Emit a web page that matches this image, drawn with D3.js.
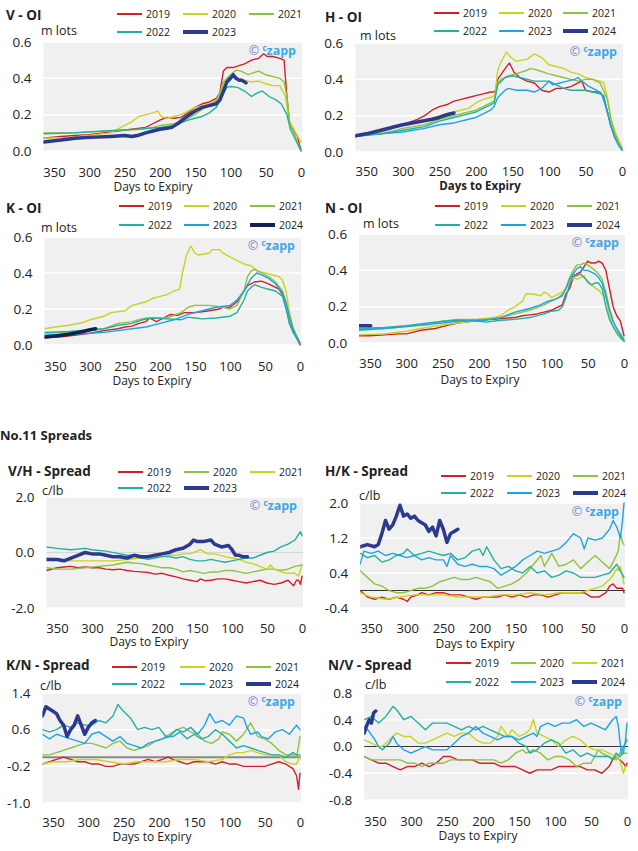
<!DOCTYPE html>
<html><head><meta charset="utf-8">
<script src="https://cdn.jsdelivr.net/npm/d3@7"></script>
<style>body{margin:0;background:#fff;} text{font-family:"Open Sans",sans-serif;fill:#222;}</style>
</head><body><svg id="c" width="638" height="851"></svg>
<script>
// ---------- DATA ([days to expiry, value]) ----------
const xTicks = [350,300,250,200,150,100,50,0];

const vOI_2019 = [[365,.07],[340,.08],[320,.085],[300,.09],[280,.10],[260,.11],[240,.12],[220,.13],[210,.15],[200,.17],[190,.185],[180,.18],[170,.185],[160,.21],[150,.24],[140,.26],[130,.27],[120,.29],[115,.32],[110,.44],[105,.46],[95,.46],[88,.47],[80,.48],[70,.50],[60,.51],[53,.535],[48,.52],[40,.52],[30,.51],[24,.50],[20,.30],[16,.14],[10,.11],[5,.08],[2,.03],[0,.01]];
const vOI_2020 = [[365,.07],[330,.075],[300,.085],[270,.10],[260,.12],[250,.14],[240,.16],[230,.19],[220,.20],[210,.21],[203,.22],[198,.19],[190,.18],[180,.19],[170,.20],[160,.22],[150,.24],[140,.25],[130,.26],[120,.27],[115,.30],[110,.37],[104,.40],[98,.41],[90,.40],[80,.39],[70,.38],[60,.385],[50,.37],[40,.36],[30,.36],[22,.30],[17,.17],[10,.12],[5,.08],[0,.05]];
const vOI_2021 = [[365,.10],[330,.10],[300,.105],[270,.11],[250,.115],[230,.12],[210,.13],[200,.14],[180,.15],[170,.16],[160,.18],[150,.20],[140,.23],[130,.25],[120,.28],[115,.32],[110,.38],[100,.42],[92,.445],[85,.44],[75,.42],[68,.43],[60,.44],[50,.42],[40,.41],[30,.40],[24,.38],[20,.30],[16,.15],[10,.10],[5,.05],[0,0]];
const vOI_2022 = [[365,.095],[320,.10],[280,.11],[260,.115],[230,.12],[200,.13],[180,.14],[160,.17],[150,.18],[140,.19],[130,.21],[120,.24],[112,.30],[105,.35],[100,.355],[90,.35],[80,.33],[70,.30],[62,.32],[55,.33],[45,.30],[35,.28],[28,.26],[20,.20],[15,.12],[10,.08],[5,.04],[0,0]];
const vOI_2023 = [[365,.05],[340,.06],[320,.07],[300,.075],[270,.08],[250,.085],[240,.08],[232,.085],[220,.10],[210,.11],[200,.12],[190,.125],[183,.13],[175,.15],[165,.18],[158,.20],[150,.22],[140,.24],[130,.25],[120,.26],[115,.28],[110,.33],[105,.38],[100,.40],[96,.42],[92,.40],[88,.39],[84,.39],[78,.375]];

const hOI_2019 = [[365,.085],[330,.11],[300,.15],[280,.18],[270,.20],[260,.23],[250,.25],[240,.26],[230,.28],[220,.29],[210,.30],[200,.31],[190,.32],[180,.33],[174,.33],[170,.40],[165,.43],[158,.47],[154,.49],[148,.44],[140,.41],[130,.39],[120,.38],[110,.34],[100,.33],[90,.35],[80,.35],[70,.36],[60,.38],[55,.39],[50,.34],[40,.33],[30,.33],[25,.30],[20,.22],[15,.14],[10,.10],[5,.06],[0,.02]];
const hOI_2020 = [[365,.09],[330,.11],[300,.15],[270,.17],[250,.20],[230,.22],[210,.24],[200,.27],[190,.29],[180,.30],[174,.31],[170,.45],[165,.50],[158,.55],[152,.52],[145,.50],[130,.51],[120,.54],[110,.52],[100,.48],[80,.46],[70,.44],[60,.43],[50,.41],[40,.40],[30,.39],[25,.38],[20,.30],[15,.18],[10,.12],[5,.07],[0,.02]];
const hOI_2021 = [[365,.09],[330,.10],[300,.13],[270,.15],[250,.18],[230,.20],[210,.22],[200,.23],[190,.25],[180,.27],[175,.28],[170,.38],[165,.40],[155,.42],[145,.43],[130,.45],[125,.46],[115,.45],[100,.43],[90,.42],[80,.41],[70,.40],[60,.39],[50,.40],[40,.40],[30,.38],[20,.29],[15,.18],[10,.10],[5,.05],[0,.02]];
const hOI_2022 = [[365,.09],[330,.10],[300,.12],[270,.14],[250,.17],[230,.19],[210,.21],[200,.22],[190,.24],[180,.26],[175,.27],[170,.37],[160,.41],[150,.42],[140,.41],[120,.39],[100,.39],[90,.37],[80,.35],[70,.34],[60,.34],[50,.34],[40,.33],[30,.32],[25,.31],[20,.22],[15,.14],[10,.08],[5,.04],[0,.01]];
const hOI_2023 = [[365,.085],[330,.10],[300,.11],[270,.13],[250,.15],[230,.16],[210,.18],[200,.19],[190,.21],[180,.23],[175,.25],[170,.30],[160,.34],[155,.35],[145,.34],[130,.34],[120,.33],[110,.35],[100,.39],[95,.37],[85,.38],[75,.39],[65,.40],[60,.41],[55,.39],[45,.36],[35,.34],[28,.32],[20,.22],[15,.14],[10,.08],[5,.04],[0,.01]];
const hOI_2024 = [[365,.09],[350,.10],[330,.12],[310,.14],[300,.15],[280,.165],[260,.18],[250,.19],[240,.205],[230,.215]];

const kOI_2019 = [[365,.04],[340,.045],[320,.055],[300,.065],[280,.08],[260,.09],[250,.10],[240,.105],[230,.12],[220,.13],[215,.15],[205,.13],[195,.15],[185,.17],[175,.165],[165,.18],[150,.18],[140,.185],[130,.19],[115,.20],[110,.21],[100,.21],[90,.24],[80,.30],[75,.33],[65,.35],[55,.355],[45,.34],[35,.32],[30,.31],[25,.28],[20,.22],[15,.12],[10,.08],[5,.04],[0,0]];
const kOI_2020 = [[365,.09],[350,.10],[330,.11],[310,.125],[300,.14],[280,.16],[270,.18],[250,.19],[240,.22],[220,.24],[210,.26],[200,.27],[190,.28],[180,.30],[172,.31],[168,.40],[162,.50],[156,.55],[150,.51],[145,.50],[130,.51],[125,.53],[115,.53],[110,.51],[100,.49],[90,.47],[80,.45],[70,.44],[60,.41],[50,.40],[40,.39],[30,.38],[25,.36],[20,.30],[15,.18],[10,.10],[5,.05],[0,.01]];
const kOI_2021 = [[365,.065],[330,.07],[300,.08],[280,.09],[260,.12],[240,.13],[230,.14],[220,.15],[200,.15],[190,.15],[170,.18],[160,.21],[150,.22],[130,.22],[110,.21],[100,.20],[90,.22],[80,.30],[75,.38],[70,.41],[65,.42],[55,.40],[45,.38],[35,.35],[25,.30],[20,.23],[15,.14],[10,.09],[5,.05],[0,.01]];
const kOI_2022 = [[365,.07],[330,.075],[300,.085],[280,.09],[260,.11],[240,.12],[225,.14],[210,.15],[190,.145],[170,.14],[160,.155],[150,.15],[140,.145],[120,.15],[100,.16],[90,.18],[80,.25],[75,.30],[70,.32],[65,.335],[55,.32],[45,.31],[35,.30],[25,.27],[20,.20],[15,.12],[10,.07],[5,.04],[0,.01]];
const kOI_2023 = [[365,.055],[330,.06],[300,.065],[280,.07],[260,.08],[240,.09],[220,.10],[200,.12],[180,.14],[160,.17],[140,.19],[120,.21],[100,.22],[90,.25],[80,.30],[70,.37],[62,.40],[55,.39],[45,.37],[35,.34],[25,.29],[20,.24],[15,.16],[10,.09],[5,.05],[0,.01]];
const kOI_2024 = [[365,.045],[350,.05],[330,.06],[310,.075],[300,.085],[292,.09]];

const nOI_2019 = [[365,.04],[350,.04],[330,.045],[310,.05],[300,.05],[290,.06],[280,.07],[260,.08],[250,.09],[240,.10],[230,.11],[210,.12],[200,.13],[180,.13],[170,.135],[150,.14],[140,.15],[130,.155],[120,.16],[110,.17],[100,.18],[90,.20],[85,.21],[80,.27],[75,.30],[70,.36],[65,.38],[60,.39],[55,.42],[50,.45],[45,.44],[40,.44],[35,.45],[30,.44],[25,.40],[20,.30],[15,.20],[10,.15],[5,.12],[0,.04]];
const nOI_2020 = [[365,.045],[330,.05],[320,.055],[300,.065],[280,.08],[250,.10],[230,.11],[210,.12],[200,.13],[180,.14],[170,.15],[160,.18],[150,.20],[140,.23],[135,.27],[125,.27],[115,.26],[110,.28],[105,.27],[100,.25],[90,.27],[85,.28],[80,.30],[75,.33],[70,.36],[65,.35],[60,.36],[55,.37],[50,.33],[45,.32],[35,.29],[30,.27],[25,.25],[20,.15],[15,.09],[10,.05],[5,.03],[0,.01]];
const nOI_2021 = [[365,.075],[330,.08],[300,.09],[270,.10],[250,.12],[230,.13],[200,.13],[180,.135],[170,.14],[150,.16],[130,.18],[110,.21],[100,.23],[90,.25],[85,.27],[80,.30],[75,.36],[70,.40],[65,.43],[60,.43],[55,.44],[50,.43],[40,.40],[35,.38],[30,.35],[25,.28],[20,.19],[15,.12],[10,.08],[5,.04],[0,.01]];
const nOI_2022 = [[365,.08],[330,.085],[300,.095],[270,.11],[250,.12],[230,.125],[200,.12],[190,.115],[170,.125],[150,.13],[130,.14],[110,.16],[100,.175],[90,.18],[85,.20],[80,.25],[75,.32],[70,.38],[65,.37],[60,.38],[55,.36],[50,.34],[45,.32],[40,.33],[35,.33],[30,.30],[25,.20],[20,.13],[15,.09],[10,.06],[5,.03],[0,.01]];
const nOI_2023 = [[365,.07],[330,.08],[300,.09],[280,.10],[250,.11],[230,.12],[210,.125],[190,.125],[170,.14],[150,.17],[130,.19],[115,.21],[105,.23],[95,.24],[85,.26],[80,.30],[75,.35],[70,.38],[65,.41],[60,.42],[55,.40],[50,.40],[45,.39],[40,.38],[35,.36],[30,.33],[25,.26],[20,.18],[15,.12],[10,.08],[5,.05],[0,.02]];
const nOI_2024 = [[366,.095],[349,.095]];

const vh_2019 = [[365,-.65],[350,-.55],[340,-.52],[330,-.5],[320,-.55],[310,-.52],[300,-.55],[290,-.55],[280,-.6],[270,-.62],[260,-.6],[250,-.65],[240,-.68],[230,-.7],[220,-.72],[210,-.78],[200,-.75],[190,-.82],[180,-.88],[170,-.95],[160,-1.0],[150,-1.05],[145,-.95],[138,-1.02],[130,-1.0],[120,-.95],[110,-.95],[100,-1.0],[90,-1.05],[80,-1.1],[70,-1.05],[60,-1.0],[50,-1.1],[40,-1.15],[30,-1.1],[20,-1.0],[12,-1.2],[8,-1.0],[5,-1.0],[2,-1.15],[0,-.85]];
const vh_2020 = [[365,-.55],[350,-.6],[330,-.6],[310,-.55],[290,-.5],[270,-.45],[250,-.35],[240,-.38],[230,-.4],[220,-.45],[210,-.5],[200,-.55],[190,-.55],[180,-.6],[170,-.7],[160,-.65],[150,-.7],[140,-.75],[130,-.7],[120,-.7],[110,-.65],[100,-.65],[90,-.7],[80,-.75],[70,-.7],[60,-.65],[50,-.6],[40,-.6],[30,-.65],[20,-.6],[10,-.5],[0,-.45]];
const vh_2021 = [[365,-.2],[350,-.25],[330,-.3],[310,-.3],[290,-.3],[270,-.3],[250,-.25],[230,-.2],[220,-.1],[210,-.15],[200,-.15],[190,-.1],[180,-.1],[170,-.05],[160,-.05],[150,.05],[145,.1],[135,-.05],[125,-.05],[110,-.15],[100,-.2],[90,-.25],[80,-.35],[70,-.4],[60,-.5],[50,-.6],[45,-.45],[40,-.6],[30,-.7],[20,-.75],[10,-.75],[5,-.85],[0,-.45]];
const vh_2022 = [[365,.2],[350,.15],[330,.1],[310,.15],[300,.1],[280,.05],[260,-.05],[250,-.1],[240,-.1],[230,-.2],[220,-.25],[210,-.2],[200,-.15],[190,-.15],[180,-.2],[170,-.15],[160,-.25],[150,-.3],[140,-.3],[130,-.25],[120,-.3],[110,-.35],[100,-.3],[90,-.25],[80,-.2],[70,-.2],[60,-.1],[50,0],[40,.05],[30,.2],[20,.3],[10,.45],[5,.65],[2,.75],[0,.6]];
const vh_2023 = [[365,-.25],[350,-.25],[340,-.3],[330,-.2],[320,-.1],[310,0],[300,-.05],[290,-.05],[280,-.1],[270,-.15],[260,-.15],[250,-.2],[240,-.1],[230,-.15],[220,-.15],[210,-.1],[200,-.05],[190,0],[180,.1],[170,.15],[160,.3],[155,.45],[150,.4],[140,.4],[130,.45],[125,.3],[115,.2],[105,.25],[100,.1],[95,-.1],[90,-.1],[85,-.15],[78,-.15]];

const hk_2019 = [[365,0],[355,-.15],[345,-.2],[335,-.15],[325,-.2],[315,-.15],[305,-.2],[300,-.25],[295,-.15],[285,-.1],[280,-.05],[270,-.1],[260,-.05],[250,-.05],[240,-.1],[225,-.1],[215,-.15],[205,-.2],[195,-.15],[185,-.15],[175,-.15],[165,-.1],[155,-.15],[145,-.1],[135,-.15],[125,-.1],[115,-.1],[105,-.15],[95,-.1],[85,-.05],[75,-.05],[65,-.05],[55,-.05],[45,-.15],[35,-.15],[25,-.05],[20,.1],[15,.15],[10,.05],[5,.05],[2,.05],[0,-.05]];
const hk_2020 = [[365,-.05],[350,-.15],[330,-.2],[310,-.15],[290,-.1],[270,-.1],[250,-.1],[230,-.15],[210,-.15],[190,-.15],[170,-.1],[150,-.1],[130,-.05],[110,-.1],[90,-.05],[70,-.05],[60,-.05],[50,0],[40,.05],[30,.1],[20,.25],[15,.35],[10,.5],[8,.45],[5,.55],[2,.3],[0,.15]];
const hk_2021 = [[365,.45],[355,.3],[345,.15],[335,.1],[325,0],[315,-.05],[305,-.05],[295,0],[285,.05],[275,.05],[265,.1],[255,.2],[245,.25],[235,.3],[225,.25],[215,.25],[205,.3],[195,.25],[185,.2],[175,.05],[165,.1],[155,.15],[145,.25],[135,.4],[125,.6],[115,.8],[110,.55],[105,.7],[100,.85],[95,.7],[90,.55],[80,.6],[70,.7],[60,.5],[50,.65],[40,.8],[30,.65],[20,.5],[12,.75],[8,.9],[5,1.3],[2,1.1],[0,1.05]];
const hk_2022 = [[365,.85],[355,.75],[345,.8],[335,.65],[325,.7],[315,.8],[305,.85],[300,.95],[290,.8],[280,.85],[270,.9],[260,.85],[250,.8],[240,.85],[230,.7],[220,.75],[210,.9],[200,.95],[195,.8],[190,1.0],[180,.7],[170,.5],[160,.55],[150,.45],[140,.4],[130,.55],[120,.4],[110,.45],[100,.3],[90,.35],[80,.45],[70,.4],[60,.3],[50,.3],[40,.3],[30,.35],[20,.4],[10,.6],[5,.45],[0,.3]];
const hk_2023 = [[365,.6],[360,.9],[350,.85],[340,.9],[330,.8],[320,.85],[310,.8],[300,.75],[290,.8],[280,.7],[270,.75],[260,.7],[250,.7],[245,.55],[240,.8],[230,.6],[220,.55],[210,.6],[200,.55],[190,.55],[180,.5],[170,.35],[160,.45],[150,.55],[140,.7],[130,.8],[120,.9],[110,.85],[100,.9],[90,.95],[80,1.1],[70,1.3],[60,1.2],[55,.95],[50,1.2],[40,1.15],[30,1.2],[20,1.4],[15,1.6],[10,1.45],[5,1.2],[2,1.6],[0,2.0]];
const hk_2024 = [[365,1.0],[355,1.05],[345,1.0],[340,1.05],[335,1.3],[330,1.6],[325,1.4],[320,1.5],[315,1.7],[310,1.95],[305,1.7],[300,1.75],[295,1.65],[290,1.7],[285,1.6],[280,1.55],[275,1.5],[270,1.35],[265,1.45],[260,1.25],[255,1.6],[250,1.4],[245,1.1],[240,1.3],[235,1.35],[230,1.4]];

const kn_2019 = [[365,-.15],[355,-.1],[345,-.05],[335,0],[325,-.05],[315,-.1],[305,-.1],[295,-.15],[285,-.15],[275,-.2],[265,-.2],[255,-.15],[245,-.15],[235,-.15],[225,-.1],[215,-.05],[205,-.1],[195,-.05],[187,0],[180,-.05],[170,-.1],[160,-.15],[150,-.1],[140,-.1],[130,-.1],[120,-.15],[110,-.1],[100,-.15],[90,-.15],[80,-.2],[70,-.2],[60,-.2],[50,-.2],[40,-.15],[30,-.1],[20,-.15],[10,-.25],[5,-.4],[2,-.7],[1,-.5],[0,-.35]];
const kn_2020 = [[365,-.15],[350,-.1],[330,-.1],[310,-.05],[290,-.05],[270,-.1],[250,-.15],[230,-.1],[210,-.1],[190,-.1],[170,-.05],[150,-.05],[130,-.1],[110,-.05],[100,.05],[90,.1],[80,.1],[70,.15],[60,.1],[50,.05],[40,.05],[30,.05],[20,-.1],[10,-.15],[5,-.15],[2,-.05],[0,0]];
const kn_2021 = [[365,.05],[355,.05],[345,.1],[335,.15],[325,.2],[315,.25],[305,.3],[295,.3],[285,.25],[275,.2],[265,.3],[255,.35],[245,.2],[235,.15],[225,.2],[215,.25],[205,.35],[195,.4],[185,.5],[175,.6],[165,.65],[155,.55],[145,.5],[135,.35],[125,.3],[115,.4],[110,.55],[100,.5],[90,.35],[80,.5],[70,.75],[60,.45],[50,.4],[40,.3],[30,.15],[20,.05],[10,.05],[5,0],[2,.25],[0,.45]];
const kn_2022 = [[365,.6],[355,.55],[345,.6],[335,.7],[325,.65],[315,.75],[305,.7],[295,.7],[285,.8],[275,.75],[265,.9],[258,1.15],[250,1.0],[240,.85],[230,.6],[220,.65],[210,.6],[200,.65],[190,.45],[180,.45],[170,.55],[160,.4],[150,.5],[140,.4],[130,.45],[120,.6],[110,.5],[100,.35],[90,.2],[80,.25],[70,.2],[60,.15],[50,.1],[40,.05],[30,.05],[20,0],[10,.1],[5,.05],[0,.05]];
const kn_2023 = [[365,.5],[355,.4],[345,.5],[335,.45],[325,.4],[315,.35],[305,.3],[295,.5],[285,.55],[275,.45],[265,.35],[255,.45],[245,.3],[235,.25],[225,.2],[215,.3],[205,.35],[195,.4],[185,.45],[175,.6],[165,.55],[155,.65],[145,.5],[135,.7],[128,.95],[120,.75],[110,.8],[100,.7],[90,.9],[80,.85],[75,.65],[70,.5],[60,.55],[55,.45],[45,.4],[35,.55],[25,.6],[15,.5],[10,.6],[5,.7],[0,.6]];
const kn_2024 = [[365,.9],[360,1.1],[355,1.05],[350,1.0],[345,.95],[340,.8],[335,.7],[330,.45],[325,.6],[320,.7],[315,.9],[310,.7],[305,.5],[300,.65],[295,.75],[290,.8]];

const nv_2019 = [[365,-.15],[355,-.2],[345,-.25],[335,-.25],[325,-.3],[315,-.35],[305,-.3],[295,-.3],[285,-.25],[275,-.3],[265,-.25],[255,-.15],[245,-.15],[235,-.2],[225,-.2],[215,-.2],[205,-.25],[195,-.25],[185,-.25],[175,-.3],[165,-.3],[155,-.3],[145,-.35],[135,-.4],[125,-.35],[115,-.35],[105,-.35],[95,-.3],[85,-.3],[75,-.3],[65,-.3],[55,-.35],[45,-.35],[35,-.4],[30,-.35],[25,-.3],[20,-.2],[15,-.15],[10,-.2],[5,-.25],[2,-.3],[0,-.25]];
const nv_2020 = [[365,-.15],[355,-.2],[345,-.2],[335,-.2],[325,-.2],[315,-.2],[305,-.25],[295,-.25],[285,-.3],[275,-.25],[265,-.25],[255,-.25],[245,-.2],[235,-.2],[225,-.2],[215,-.2],[205,-.2],[195,-.2],[185,-.2],[175,-.25],[165,-.2],[155,-.1],[145,-.05],[140,-.1],[130,-.05],[120,-.1],[110,-.2],[100,-.15],[90,-.15],[80,-.2],[70,-.3],[60,-.25],[50,-.25],[40,-.05],[35,-.1],[25,-.15],[15,-.2],[10,-.1],[5,-.1],[0,-.1]];
const nv_2021 = [[365,.1],[355,.05],[345,0],[340,0],[330,.1],[320,.2],[310,.15],[300,.15],[290,.05],[280,.05],[270,.1],[260,.15],[250,.2],[240,.15],[230,.2],[220,.2],[210,.1],[200,.05],[190,.05],[180,.15],[175,.3],[165,.15],[160,.25],[150,.15],[140,.2],[135,.25],[130,.4],[125,.2],[115,.15],[105,.1],[95,0],[85,.1],[75,.15],[65,.1],[55,0],[45,-.05],[35,-.05],[25,-.1],[15,-.15],[10,-.2],[5,-.4],[2,-.3],[0,-.3]];
const nv_2022 = [[365,.4],[355,.45],[345,.35],[335,.45],[325,.6],[320,.55],[310,.4],[300,.45],[290,.35],[280,.25],[270,.35],[260,.35],[250,.35],[240,.3],[230,.25],[220,.3],[210,.25],[200,.3],[190,.25],[180,.2],[170,.15],[160,.15],[150,.05],[140,0],[135,-.1],[125,-.05],[115,.05],[105,.1],[95,.05],[85,-.1],[75,-.05],[65,-.15],[55,-.1],[45,-.15],[35,-.15],[25,-.15],[20,-.2],[15,-.1],[10,-.15],[5,-.1],[2,.1],[0,.35]];
const nv_2023 = [[365,.3],[360,.25],[350,.1],[345,0],[340,-.05],[330,.05],[325,.15],[320,.05],[310,-.05],[300,-.1],[290,-.05],[280,0],[270,-.05],[260,-.05],[250,-.05],[240,.05],[230,.15],[220,.2],[210,.3],[200,.2],[190,.15],[180,.1],[170,.15],[160,.15],[150,.1],[140,.15],[130,.2],[125,.15],[120,.3],[110,.35],[100,.3],[90,.35],[80,.35],[70,.4],[60,.3],[50,.35],[40,.3],[30,.25],[20,.4],[15,.45],[12,.3],[8,-.1],[5,0],[2,.05],[0,.1]];
const nv_2024 = [[365,.2],[362,.3],[358,.4],[355,.35],[352,.5],[349,.53]];

// ---------- STYLE ----------
const RED="#d2202a", YEL="#c8d41e", GRN="#8cc43c", TEAL="#22b0a0", BLUE="#1ea4e6", NAVY="#2b3a8f", NAVYD="#10234f";

const panels = [
 {title:"V - OI", unit:"m lots", x0:43.4, x1:301, yT:42, yB:151, yDom:[0,0.6], yTicks:[0,0.2,0.4,0.6],
  series:[["2019",vOI_2019,RED],["2020",vOI_2020,YEL],["2021",vOI_2021,GRN],["2022",vOI_2022,TEAL],["2023",vOI_2023,NAVY,1]],
  lx:[117,183,249], ly:[14,32], tx:6, ty:20, ux:41, uy:35, tickY:177, atY:191, atX:153},
 {title:"H - OI", unit:"m lots", x0:355.3, x1:622, yT:43, yB:152, yDom:[0,0.6], yTicks:[0,0.2,0.4,0.6],
  series:[["2019",hOI_2019,RED],["2020",hOI_2020,YEL],["2021",hOI_2021,GRN],["2022",hOI_2022,TEAL],["2023",hOI_2023,BLUE],["2024",hOI_2024,NAVY,1]],
  lx:[434,499,563], ly:[13,31], tx:325, ty:22, ux:360, uy:40, tickY:176, atY:190, atX:480, atBold:1},
 {title:"K - OI", unit:"m lots", x0:44.5, x1:300, yT:237, yB:345, yDom:[0,0.6], yTicks:[0,0.2,0.4,0.6],
  series:[["2019",kOI_2019,RED],["2020",kOI_2020,YEL],["2021",kOI_2021,GRN],["2022",kOI_2022,TEAL],["2023",kOI_2023,BLUE],["2024",kOI_2024,NAVYD,1]],
  lx:[119,184,250], ly:[206,225], tx:6, ty:213, ux:41, uy:232, tickY:371, atY:385, atX:152},
 {title:"N - OI", unit:"m lots", x0:359.1, x1:624, yT:234, yB:343, yDom:[0,0.6], yTicks:[0,0.2,0.4,0.6],
  series:[["2019",nOI_2019,RED],["2020",nOI_2020,YEL],["2021",nOI_2021,GRN],["2022",nOI_2022,TEAL],["2023",nOI_2023,BLUE],["2024",nOI_2024,NAVY,1]],
  lx:[435,501,567], ly:[206,225], tx:325, ty:213, ux:363, uy:228, tickY:368, atY:384, atX:480},
 {title:"V/H - Spread", unit:"c/lb", x0:46.5, x1:302, yT:497, yB:608, yDom:[-2,2], yTicks:[-2,0,2], zero:["#d8d8d8",1.5],
  series:[["2019",vh_2019,RED],["2020",vh_2020,GRN],["2021",vh_2021,YEL],["2022",vh_2022,TEAL],["2023",vh_2023,NAVY,1]],
  lx:[118,184,250], ly:[472,488], tx:8, ty:476, ux:42, uy:495, tickY:633, atY:646, atX:149},
 {title:"H/K - Spread", unit:"c/lb", x0:360.2, x1:624, yT:503, yB:608, yDom:[-0.4,2.0], yTicks:[-0.4,0.4,1.2,2.0], zero:["#333",1],
  series:[["2019",hk_2019,RED],["2020",hk_2020,YEL],["2021",hk_2021,GRN],["2022",hk_2022,TEAL],["2023",hk_2023,BLUE],["2024",hk_2024,NAVY,1]],
  lx:[441,507,573], ly:[476,493], tx:325, ty:476, ux:359, uy:500, tickY:633, atY:648, atX:475},
 {title:"K/N - Spread", unit:"c/lb", x0:42.4, x1:300, yT:693, yB:803, yDom:[-1.0,1.4], yTicks:[-1.0,-0.2,0.6,1.4], zero:["#888",2],
  series:[["2019",kn_2019,RED],["2020",kn_2020,YEL],["2021",kn_2021,GRN],["2022",kn_2022,TEAL],["2023",kn_2023,BLUE],["2024",kn_2024,NAVY,1]],
  lx:[112,180,246], ly:[667,684], tx:6, ty:670, ux:40, uy:690, tickY:827, atY:841, atX:152},
 {title:"N/V - Spread", unit:"c/lb", x0:364.2, x1:627, yT:693, yB:800, yDom:[-0.8,0.8], yTicks:[-0.8,-0.4,0,0.4,0.8], zero:["#333",1],
  series:[["2019",nv_2019,RED],["2020",nv_2020,GRN],["2021",nv_2021,YEL],["2022",nv_2022,TEAL],["2023",nv_2023,BLUE],["2024",nv_2024,NAVY,1]],
  lx:[446,511,572], ly:[663,682], tx:328, ty:670, ux:365, uy:689, tickY:826, atY:840, atX:478}
];

const svg = d3.select("#c");
svg.append("text").attr("x",0).attr("y",440).attr("font-size",13).attr("font-weight","bold").text("No.11 Spreads");

panels.forEach((p,i)=>{
  const g = svg.append("g");
  const x = d3.scaleLinear().domain([365,0]).range([p.x0,p.x1]);
  const y = d3.scaleLinear().domain(p.yDom).range([p.yB,p.yT]);
  g.append("rect").attr("x",p.x0).attr("y",p.yT).attr("width",p.x1-p.x0+1).attr("height",p.yB-p.yT).attr("fill","#f0f0f0");
  p.yTicks.forEach(t=>{
    g.append("line").attr("x1",p.x0).attr("x2",p.x1+1).attr("y1",y(t)).attr("y2",y(t)).attr("stroke","#fff").attr("stroke-width",1.5);
  });
  if(p.zero){
    g.append("line").attr("x1",p.x0).attr("x2",p.x1+1).attr("y1",y(0)).attr("y2",y(0)).attr("stroke",p.zero[0]).attr("stroke-width",p.zero[1]);
  }
  const clipId="clip"+i;
  g.append("clipPath").attr("id",clipId).append("rect").attr("x",p.x0).attr("y",p.yT-3).attr("width",p.x1-p.x0+3).attr("height",p.yB-p.yT+6);
  const line = d3.line().x(d=>x(d[0])).y(d=>y(d[1]));
  const lg = g.append("g").attr("clip-path",`url(#${clipId})`);
  p.series.forEach(s=>{
    lg.append("path").datum(s[1]).attr("d",line).attr("fill","none").attr("stroke",s[2])
      .attr("stroke-width",s[3]?3.5:1.4).attr("stroke-linejoin","round").attr("stroke-linecap","round");
  });
  // y axis
  const ya = g.append("g").attr("transform",`translate(${p.x0},0)`)
    .call(d3.axisLeft(y).tickValues(p.yTicks).tickSize(0).tickPadding(12).tickFormat(d=>d.toFixed(1)));
  ya.select(".domain").remove();
  ya.selectAll("text").attr("font-size",13.5).attr("fill","#222").attr("font-family","Open Sans");
  // x axis
  const xa = g.append("g").attr("transform",`translate(0,${p.yB})`)
    .call(d3.axisBottom(x).tickValues(xTicks).tickSize(0).tickPadding(p.tickY-p.yB-9).tickFormat(d=>d));
  xa.select(".domain").remove();
  xa.selectAll("text").attr("font-size",13).attr("fill","#222").attr("font-family","Open Sans");
  g.append("text").attr("x",p.atX).attr("y",p.atY).attr("text-anchor","middle").attr("font-size",p.atBold?11.5:12)
    .attr("font-weight",p.atBold?"bold":"normal").text("Days to Expiry");
  // title, unit
  g.append("text").attr("x",p.tx).attr("y",p.ty).attr("font-size",13.5).attr("font-weight","bold").text(p.title);
  g.append("text").attr("x",p.ux).attr("y",p.uy).attr("font-size",12.5).text(p.unit);
  // legend
  p.series.forEach((s,k)=>{
    const cx = p.lx[k%3], cy = p.ly[Math.floor(k/3)];
    g.append("line").attr("x1",cx).attr("x2",cx+25).attr("y1",cy).attr("y2",cy).attr("stroke",s[2]).attr("stroke-width",s[3]?4:2);
    g.append("text").attr("x",cx+29).attr("y",cy+4).attr("font-size",10.5).text(s[0]);
  });
  // copyright
  const ct = g.append("text").attr("x",p.x1-5).attr("y",p.yT+13).attr("text-anchor","end").attr("font-size",12.5).attr("font-weight","bold");
  ct.append("tspan").attr("fill","#7f83c9").attr("font-weight","normal").text("© ");
  ct.append("tspan").attr("fill","#3ea8e5").attr("font-size",8).attr("dy",-4).text("c");
  ct.append("tspan").attr("fill","#3ea8e5").attr("dy",4).text("zapp");
});
</script></body></html>
